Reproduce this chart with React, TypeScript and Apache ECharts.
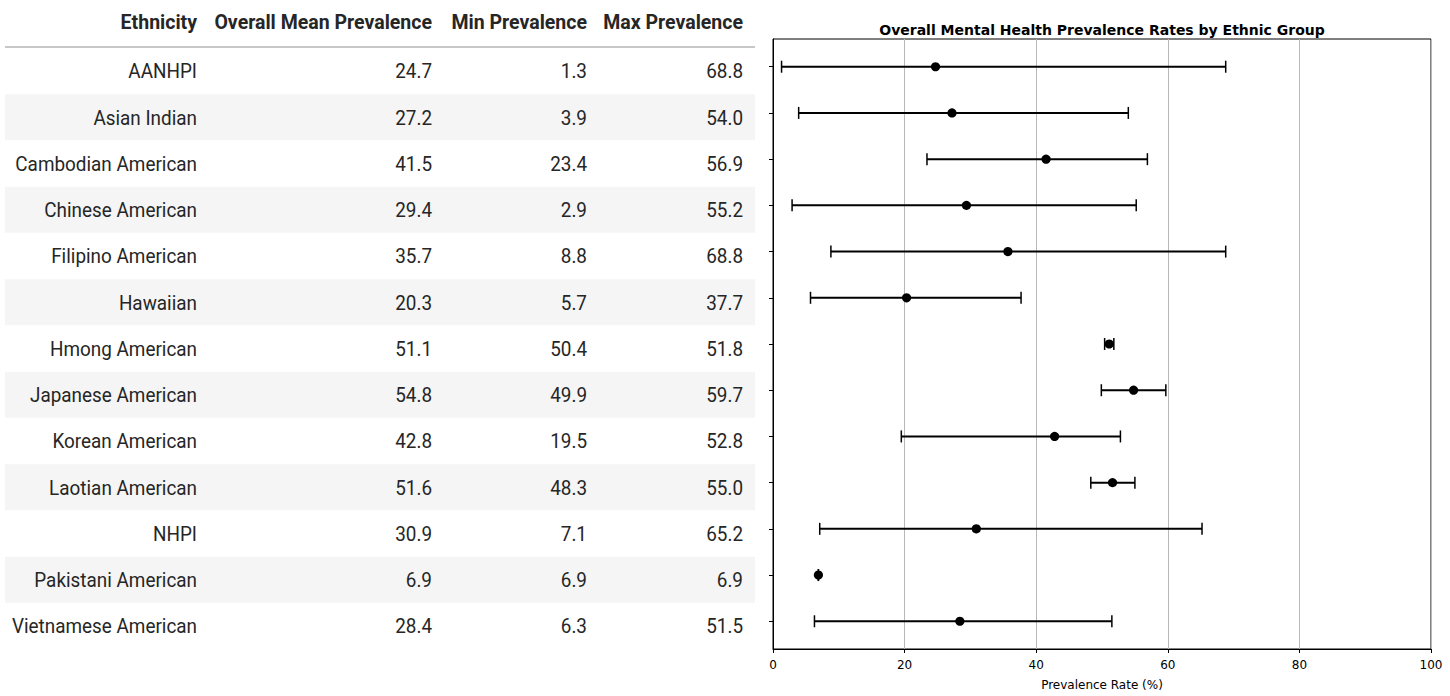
import React, { useEffect, useRef } from "react";
import * as echarts from "echarts";

const ethnicities = [
  "AANHPI",
  "Asian Indian",
  "Cambodian American",
  "Chinese American",
  "Filipino American",
  "Hawaiian",
  "Hmong American",
  "Japanese American",
  "Korean American",
  "Laotian American",
  "NHPI",
  "Pakistani American",
  "Vietnamese American",
];
const meanValues = [24.7, 27.2, 41.5, 29.4, 35.7, 20.3, 51.1, 54.8, 42.8, 51.6, 30.9, 6.9, 28.4];
const minValues = [1.3, 3.9, 23.4, 2.9, 8.8, 5.7, 50.4, 49.9, 19.5, 48.3, 7.1, 6.9, 6.3];
const maxValues = [68.8, 54.0, 56.9, 55.2, 68.8, 37.7, 51.8, 59.7, 52.8, 55.0, 65.2, 6.9, 51.5];
const columnHeaders = ["Ethnicity", "Overall Mean Prevalence", "Min Prevalence", "Max Prevalence"];

const chartTitle = "Overall Mental Health Prevalence Rates by Ethnic Group";
const xAxisName = "Prevalence Rate (%)";

// layout constants (table)
const colRight = [197, 432, 587, 743];
const headerY = 22;
const firstRowY = 71;
const rowStep = 46.25;
const tableFont = "Roboto, 'Noto Sans', sans-serif";
const tableFontSize = 21;
const tableScaleX = 0.9;
const headerScaleX = 0.93;

export default function App() {
  const ref = useRef<HTMLDivElement>(null);

  useEffect(() => {
    document.body.style.margin = "0";
    const chart = echarts.init(ref.current!, null, { renderer: "svg" });

    const graphics: any[] = [];
    // shaded rows
    ethnicities.forEach((_, i) => {
      if (i % 2 === 1) {
        graphics.push({
          type: "rect",
          shape: { x: 5, y: firstRowY + i * rowStep - 23, width: 750, height: 46 },
          style: { fill: "#f5f5f5" },
          silent: true,
          z: 0,
        });
      }
    });
    // header line
    graphics.push({
      type: "line",
      shape: { x1: 5, y1: 47, x2: 755, y2: 47 },
      style: { stroke: "#b4b4b4", lineWidth: 1.5 },
      z: 1,
    });
    // headers
    columnHeaders.forEach((h, c) => {
      graphics.push({
        type: "text",
        x: colRight[c],
        y: headerY,
        scaleX: headerScaleX,
        style: {
          text: h,
          align: "right",
          verticalAlign: "middle",
          font: `bold ${tableFontSize}px ${tableFont}`,
          fill: "#262626",
        },
        z: 2,
      });
    });
    // rows
    ethnicities.forEach((name, i) => {
      const cells = [name, meanValues[i].toFixed(1), minValues[i].toFixed(1), maxValues[i].toFixed(1)];
      cells.forEach((t, c) => {
        graphics.push({
          type: "text",
          x: colRight[c],
          y: firstRowY + i * rowStep,
          scaleX: tableScaleX,
          style: {
            text: t,
            align: "right",
            verticalAlign: "middle",
            font: `${tableFontSize}px ${tableFont}`,
            fill: "#262626",
          },
          z: 2,
        });
      });
    });

    const data = ethnicities.map((_, i) => [meanValues[i], minValues[i], maxValues[i], i]);

    chart.setOption({
      animation: false,
      backgroundColor: "#ffffff",
      title: {
        text: chartTitle,
        left: 1097,
        textAlign: "center",
        top: 18,
        textStyle: {
          fontFamily: "DejaVu Sans",
          fontWeight: "bold",
          fontSize: 14,
          color: "#000",
        },
      },
      grid: {
        left: 773,
        right: 19,
        top: 39,
        bottom: 42,
        show: true,
        borderColor: "#000",
        borderWidth: 1,
        backgroundColor: "transparent",
      },
      xAxis: {
        type: "value",
        min: 0,
        max: 100,
        interval: 20,
        name: xAxisName,
        nameLocation: "middle",
        nameGap: 30,
        nameTextStyle: { fontFamily: "DejaVu Sans", fontSize: 12, color: "#000" },
        axisLine: { show: true, onZero: false, lineStyle: { color: "#000", width: 1 } },
        axisTick: { show: true, length: 4, lineStyle: { color: "#000" } },
        axisLabel: { fontFamily: "DejaVu Sans", fontSize: 12, color: "#000", margin: 10 },
        splitLine: { show: true, lineStyle: { color: "#b8b8b8", width: 1 } },
      },
      yAxis: {
        type: "value",
        min: -0.6,
        max: 12.6,
        inverse: true,
        axisLine: { show: true, onZero: false, lineStyle: { color: "#000", width: 1 } },
        axisTick: {
          show: true,
          length: 4,
          lineStyle: { color: "#000" },
          customValues: ethnicities.map((_, i) => i),
        },
        axisLabel: { show: false },
        splitLine: { show: false },
      },
      series: [
        {
          type: "custom",
          data,
          encode: { x: [0, 1, 2], y: 3 },
          renderItem: (params: any, api: any) => {
            const i = api.value(3);
            const pLo = api.coord([api.value(1), i]);
            const pHi = api.coord([api.value(2), i]);
            const pM = api.coord([api.value(0), i]);
            const cap = 6;
            return {
              type: "group",
              children: [
                {
                  type: "line",
                  shape: { x1: pLo[0], y1: pLo[1], x2: pHi[0], y2: pHi[1] },
                  style: { stroke: "#000", lineWidth: 2 },
                },
                {
                  type: "line",
                  shape: { x1: pLo[0], y1: pLo[1] - cap, x2: pLo[0], y2: pLo[1] + cap },
                  style: { stroke: "#000", lineWidth: 1.5 },
                },
                {
                  type: "line",
                  shape: { x1: pHi[0], y1: pHi[1] - cap, x2: pHi[0], y2: pHi[1] + cap },
                  style: { stroke: "#000", lineWidth: 1.5 },
                },
                {
                  type: "circle",
                  shape: { cx: pM[0], cy: pM[1], r: 4.6 },
                  style: { fill: "#000" },
                },
              ],
            };
          },
          z: 5,
        },
      ],
      graphic: graphics,
    });

    return () => chart.dispose();
  }, []);

  return <div ref={ref} style={{ width: 1450, height: 696 }} />;
}
